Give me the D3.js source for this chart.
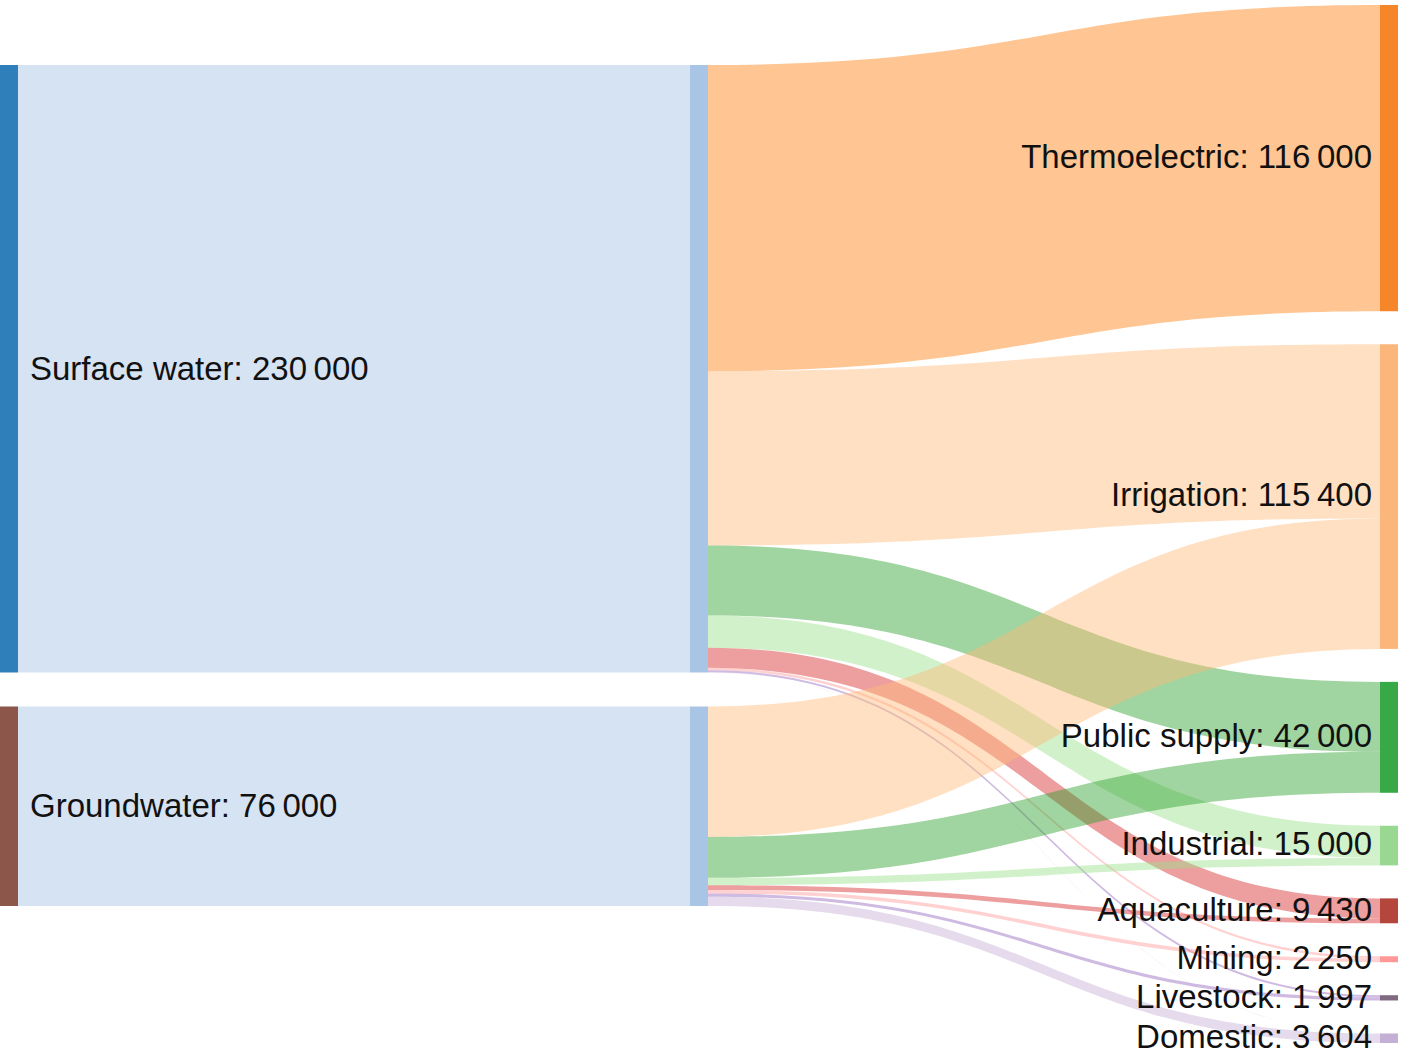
<!DOCTYPE html>
<html><head><meta charset="utf-8">
<script src="https://cdn.jsdelivr.net/npm/d3@7"></script>
<style>body{margin:0;background:#fff}</style>
</head><body><svg id="c" width="1404" height="1054"></svg>
<script>
// ---- data ----
const sources = ["Surface water", "Groundwater"];
const sourceTotals = [230000, 76000];
const uses = ["Thermoelectric", "Irrigation", "Public supply", "Industrial", "Aquaculture", "Mining", "Livestock", "Domestic"];
const useTotals = [116000, 115400, 42000, 15000, 9430, 2250, 1997, 3604];
const surfaceToUse = [116000, 66000, 26500, 12200, 7650, 900, 800, 60];
const groundToUse = [0, 49400, 15500, 2800, 1780, 1350, 1197, 3544];

// ---- styles ----
const sourceColors = ["#2f7fba", "#8c564b"];
const midColor = "#a9c5e6";
const midLinkColor = "#aec7e8";
const useNodeColors = ["#f7862a", "#fbb67c", "#37aa47", "#98d890", "#b5463c", "#ff9896", "#806a82", "#c5b0d5"];
const useLinkColors = ["#ff7f0e", "#ffbb78", "#2ca02c", "#98df8a", "#d62728", "#ff9896", "#9467bd", "#c5b0d5"];

const svg = d3.select("#c");
const nodeW = 18;
const xLeft = 0, xMid = 690, xRight = 1380;
const rightTop = 5, rightBottom = 1043, rightPad = 33;
const leftTop = 65, leftPad = 34;
const font = "'Liberation Sans', Arial, Helvetica, sans-serif";

const fmt = d3.formatLocale({decimal: ".", thousands: "\u2009", grouping: [3], currency: ["", ""]}).format(",d");

const flows = [surfaceToUse, groundToUse];
const srcOut = flows.map(f => d3.sum(f));
const useIn = uses.map((u, i) => d3.sum(flows, f => f[i]));
const total = d3.sum(useIn);
const pxTotal = rightBottom - rightTop - rightPad * (uses.length - 1);
const h = d3.scaleLinear().domain([0, total]).range([0, pxTotal]);

// node positions
const srcY0 = [];
{ let y = leftTop; srcOut.forEach((v, i) => { srcY0[i] = y; y += h(v) + leftPad; }); }
const useY0 = [];
{ let y = rightTop; useIn.forEach((v, i) => { useY0[i] = y; y += h(v) + rightPad; }); }

function ribbon(x0, y0t, y0b, x1, y1t, y1b) {
  const xm = (x0 + x1) / 2;
  const p = d3.path();
  p.moveTo(x0, y0t);
  p.bezierCurveTo(xm, y0t, xm, y1t, x1, y1t);
  p.lineTo(x1, y1b);
  p.bezierCurveTo(xm, y1b, xm, y0b, x0, y0b);
  p.closePath();
  return p.toString();
}

const gLinks = svg.append("g");
// source -> middle links
sources.forEach((s, i) => {
  const y0 = srcY0[i], y1 = y0 + h(srcOut[i]);
  gLinks.append("path")
    .attr("d", ribbon(xLeft + nodeW, y0, y1, xMid, y0, y1))
    .attr("fill", midLinkColor).attr("fill-opacity", 0.5);
});
// middle -> use links
const useOffset = useY0.slice();
const linkData = [];
sources.forEach((s, i) => {
  let off = srcY0[i];
  uses.forEach((u, j) => {
    const v = flows[i][j];
    if (v <= 0) return;
    const w = h(v);
    linkData.push({s: i, t: j, y0: off, y1: useOffset[j], w});
    off += w;
    useOffset[j] += w;
  });
});
gLinks.selectAll("path.lk").data(linkData).enter().append("path")
  .attr("class", "lk")
  .attr("d", d => ribbon(xMid + nodeW, d.y0, d.y0 + d.w, xRight, d.y1, d.y1 + d.w))
  .attr("fill", d => useLinkColors[d.t])
  .attr("fill-opacity", 0.45);

// nodes
const gNodes = svg.append("g");
sources.forEach((s, i) => {
  gNodes.append("rect").attr("x", xLeft).attr("y", srcY0[i]).attr("width", nodeW)
    .attr("height", h(srcOut[i])).attr("fill", sourceColors[i]);
  gNodes.append("rect").attr("x", xMid).attr("y", srcY0[i]).attr("width", nodeW)
    .attr("height", h(srcOut[i])).attr("fill", midColor);
});
uses.forEach((u, j) => {
  gNodes.append("rect").attr("x", xRight).attr("y", useY0[j]).attr("width", nodeW)
    .attr("height", h(useIn[j])).attr("fill", useNodeColors[j]);
});

// labels
const gLab = svg.append("g").attr("font-family", font).attr("font-size", 33).attr("fill", "#111");
sources.forEach((s, i) => {
  gLab.append("text").attr("x", xLeft + nodeW + 12).attr("y", srcY0[i] + h(srcOut[i]) / 2)
    .attr("dy", "0.33em").text(`${s}: ${fmt(sourceTotals[i])}`);
});
uses.forEach((u, j) => {
  gLab.append("text").attr("x", xRight - 8).attr("y", useY0[j] + h(useIn[j]) / 2)
    .attr("dy", "0.3em").attr("text-anchor", "end").text(`${u}: ${fmt(useTotals[j])}`);
});
</script>
</body></html>
